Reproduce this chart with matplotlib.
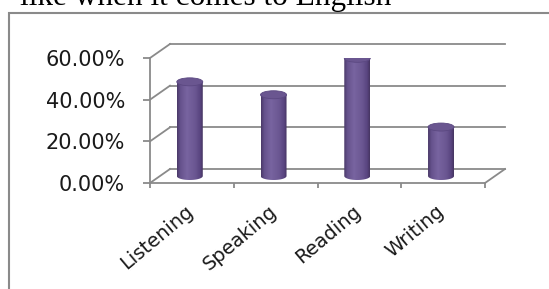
import numpy as np
import matplotlib
matplotlib.use('Agg')
import matplotlib.pyplot as plt
from matplotlib.patches import Ellipse, Rectangle, PathPatch
from matplotlib.path import Path
from matplotlib.colors import LinearSegmentedColormap

# ---- data ----
categories = ['Listening', 'Speaking', 'Reading', 'Writing']
values = [45.2, 39.0, 56.5, 23.5]
yticks = [0, 20, 40, 60]
ytick_labels = ['0.00%', '20.00%', '40.00%', '60.00%']
title_text = 'like when it comes to English'

W, H = 549, 289
fig = plt.figure(figsize=(W / 100, H / 100), dpi=100)
fig.patch.set_facecolor('white')

# frame box
gray = '#8a8a8a'
fig.patches.append(Rectangle((8.5 / W, -0.2), 2.0, (H - 12.5) / H + 0.2,
                             transform=fig.transFigure, fill=False,
                             edgecolor=gray, lw=1.5, clip_on=False))

fig.text(20 / W, (H - 5) / H, title_text, family='Liberation Serif',
         fontsize=22.5, va='baseline', ha='left', color='black')

ax = fig.add_axes([150 / W, (H - 183) / H, 335 / W, 125 / H])
n = len(categories)
ax.set_xlim(-0.5, n - 0.5)
ax.set_ylim(0, 60)
ax.patch.set_alpha(0)

# depth offsets (data units)
dx = 20 / (335 / n)
dy = 14 / (125 / 60)

lw = 1.3
for s in ['top', 'right']:
    ax.spines[s].set_visible(False)
for s in ['left', 'bottom']:
    ax.spines[s].set_color(gray)
    ax.spines[s].set_linewidth(lw)

# back wall gridlines and side diagonals
for v in yticks:
    ax.plot([-0.5 + dx, n - 0.5 + dx], [v + dy, v + dy], color=gray, lw=lw,
            clip_on=False, zorder=1)
    ax.plot([-0.5, -0.5 + dx], [v, v + dy], color=gray, lw=lw,
            clip_on=False, zorder=1)
ax.plot([n - 0.5, n - 0.5 + dx], [0, dy], color=gray, lw=lw, clip_on=False, zorder=1)

ax.set_yticks(yticks)
ax.set_yticklabels(ytick_labels)
ax.set_xticks(np.arange(n + 1) - 0.5)
ax.set_xticklabels([])
ax.tick_params(axis='y', direction='out', length=5, width=lw, color=gray,
               pad=13, labelsize=15, labelcolor='#1a1a1a')
ax.tick_params(axis='x', direction='out', length=3.6, width=lw, color=gray)
for t in ax.get_yticklabels():
    t.set_family('DejaVu Sans')

# category labels
for i, c in enumerate(categories):
    ax.annotate(c, xy=(i, 0), xycoords='data', xytext=(-1, -26),
                textcoords='offset pixels', rotation=40,
                rotation_mode='anchor', ha='right', va='center',
                fontsize=14, family='DejaVu Sans', color='#1a1a1a')

# cylinders
cmap = LinearSegmentedColormap.from_list('cyl', [
    (0.0, '#4a3969'), (0.12, '#65518c'), (0.38, '#7864a0'),
    (0.7, '#6b5792'), (0.9, '#594580'), (1.0, '#463561')])
bw = 26 / (335 / n)
eh = 8 / (125 / 60)
base = dy / 2
grad = np.linspace(0, 1, 64)[None, :]
th = np.linspace(np.pi, 2 * np.pi, 40)
for i, v in enumerate(values):
    cx = i - 0.025
    top = v + base
    xs = [cx - bw / 2, cx - bw / 2]
    ys = [top, base]
    xs += list(cx + bw / 2 * np.cos(th))
    ys += list(base + eh / 2 * np.sin(th))
    xs += [cx + bw / 2, cx - bw / 2]
    ys += [top, top]
    path = Path(np.column_stack([xs, ys]))
    pp = PathPatch(path, transform=ax.transData, facecolor='none', edgecolor='none')
    ax.add_patch(pp)
    im = ax.imshow(grad, cmap=cmap, aspect='auto', interpolation='bilinear',
                   extent=[cx - bw / 2, cx + bw / 2, base - eh / 2, top],
                   zorder=3)
    im.set_clip_path(pp)
    ax.add_patch(Ellipse((cx, top), bw, eh, facecolor='#6a5690',
                         edgecolor='#5b4881', lw=0.6, zorder=4))

ax.set_xlim(-0.5, n - 0.5)
ax.set_ylim(0, 60)

fig.savefig('out.png', dpi=100, facecolor='white')
